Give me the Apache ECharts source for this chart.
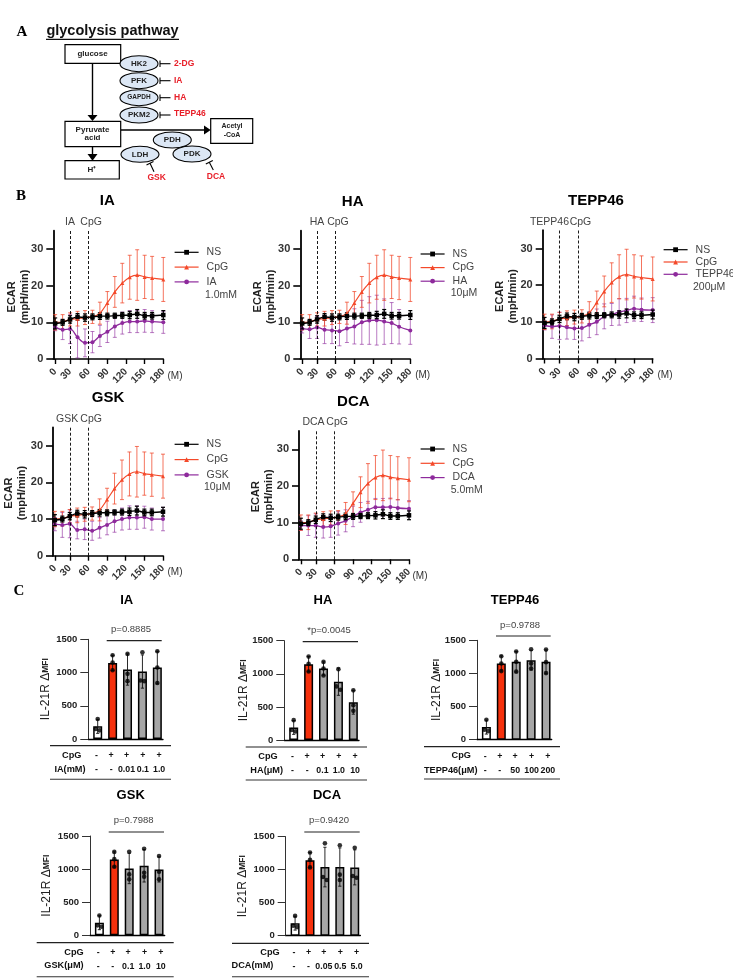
<!DOCTYPE html>
<html><head><meta charset="utf-8">
<style>html,body{margin:0;padding:0;background:#fff}#c{width:733px;height:980px}</style>
<script src="https://cdn.jsdelivr.net/npm/echarts@6/dist/echarts.min.js"></script>
</head><body><div id="c"></div>
<script>
// ---------- DATA ----------
const times = [6,18,30,42,54,66,78,90,102,114,126,138,150,162,180];
const timeTicks = [6,30,60,90,120,150,180];
const timeTickLabels = ['0','30','60','90','120','150','180'];
const ecarTicks = [0,10,20,30];
const NS_mean  = [9.7,10.0,10.8,11.5,11.3,11.5,11.7,11.7,11.8,11.9,12.0,12.3,11.8,11.8,12.0];
const NS_sd    = [1.5,0.8,1.0,0.9,1.0,0.8,0.9,0.8,0.7,0.8,1.0,1.2,0.9,0.9,1.2];
const CpG_mean = [10.0,10.1,10.8,11.0,11.3,11.5,12.5,15.3,18.3,20.7,22.3,22.9,22.4,22.1,21.7];
const CpG_sd   = [2.1,2.0,1.8,2.0,1.9,1.8,3.0,3.1,4.2,5.4,6.0,6.9,5.9,5.9,6.0];
const IA_mean  = [8.7,8.0,8.2,5.9,4.4,4.6,6.3,7.4,8.9,9.8,10.2,10.2,10.4,10.2,10.0];
const IA_sd    = [1.0,2.7,4.0,5.6,3.8,2.9,2.9,2.9,3.0,3.0,3.0,3.0,3.1,3.0,3.0];
const HA_mean  = [8.3,8.1,8.6,8.0,7.8,7.6,8.3,8.9,10.0,10.5,10.6,10.2,9.8,8.8,7.8];
const HA_sd    = [1.2,2.5,3.0,3.8,3.6,4.0,3.8,4.8,6.0,6.5,6.8,6.2,5.6,4.7,3.8];
const TEPP_mean= [9.0,8.7,8.9,8.5,8.2,8.3,9.2,10.0,11.5,12.0,12.7,13.1,13.6,13.3,13.2];
const TEPP_sd  = [1.2,3.2,3.7,3.2,3.0,3.5,3.5,3.5,3.4,3.0,3.6,3.3,3.4,3.2,3.4];
const GSK_mean = [8.6,8.4,8.7,7.0,7.2,6.8,7.6,8.4,9.4,10.0,10.4,10.4,10.5,10.0,10.0];
const GSK_sd   = [1.8,3.4,3.8,2.4,2.8,2.6,2.8,2.7,3.0,3.0,3.2,3.2,3.0,3.0,3.2];
const DCA_mean = [9.2,9.2,9.2,8.8,9.0,9.8,10.5,11.7,12.8,13.5,14.2,14.2,14.3,14.0,13.8];
const DCA_sd   = [1.3,2.7,3.2,3.0,3.0,3.2,3.0,2.8,2.7,2.3,2.4,2.4,2.4,2.3,2.2];

const barIA_mean = [190,1145,1045,1015,1075];
const barIA_sd   = [105,115,235,250,245];
const barIA_dots = [[300,150,130],[1260,1150,1035],[1280,980,870],[1305,880,870],[1320,1075,843]];
const barIA_doses= ['-','-','0.01','0.1','1.0'];
const barHA_mean = [190,1145,1080,880,570];
const barHA_sd   = [105,115,100,205,180];
const barHA_dots = [[300,150,130],[1260,1150,1035],[1180,1080,975],[1070,810,760],[750,525,440]];
const barHA_doses= ['-','-','0.1','1.0','10'];
const barTEPP_mean = [190,1150,1175,1200,1175];
const barTEPP_sd   = [105,115,155,150,180];
const barTEPP_dots = [[300,150,130],[1260,1150,1035],[1330,1175,1027],[1365,1150,1075],[1360,1170,1005]];
const barTEPP_doses= ['-','-','50','100','200'];
const barGSK_mean = [190,1145,1010,1050,995];
const barGSK_sd   = [105,115,230,245,190];
const barGSK_dots = [[300,150,130],[1260,1150,1035],[1263,920,845],[1308,945,885],[1198,960,845]];
const barGSK_doses= ['-','-','0.1','1.0','10'];
const barDCA_mean = [190,1145,1040,1040,1035];
const barDCA_sd   = [105,115,300,290,265];
const barDCA_dots = [[300,150,130],[1260,1150,1035],[1399,890,843],[1370,925,843],[1333,905,879]];
const barDCA_doses= ['-','-','0.05','0.5','5.0'];
const cpgSigns = ['-','+','+','+','+'];

// ---------- STYLE / LAYOUT ----------
const FONT = '"Liberation Sans", Arial, sans-serif';
const BLACK='#000000', RED='#f4492a', PURPLE='#8e2a9c';
const BAR_FILL=['#ffffff','#f5300c','#a6a6a6','#a6a6a6','#a6a6a6'];
const LABEL_POS=[-0.08,0.9,1.93,3.03,4.12];

const linePanels = [
 {title:'IA',   t:[107.3,201],  left:53.3, y0:359,  mean:IA_mean,  sd:IA_sd,  name:'IA',    dose:'1.0mM', lab:[0,2.4],   leg:[174,252.3,14.8,205,295], m:[175,376.7], gap:21.8, pad:4},
 {title:'HA',   t:[352.7,202.3],left:300.3,y0:359,  mean:HA_mean,  sd:HA_sd,  name:'HA',    dose:'10μM',  lab:[0,2.2],   leg:[420,254,13.6,450.7,293], m:[422.7,375.7], gap:23, pad:4},
 {title:'TEPP46',t:[596,201],   left:542.7,y0:358.5,mean:TEPP_mean,sd:TEPP_sd,name:'TEPP46',dose:'200μM', lab:[-10,2.3], leg:[663,249.7,12.3,693,286.7], m:[665,375.7], gap:23.7, pad:4},
 {title:'GSK',  t:[108,397.7],  left:53,   y0:555.7,mean:GSK_mean, sd:GSK_sd, name:'GSK',   dose:'10μM',  lab:[-2.7,2.7],leg:[174,444.3,15.3,204,487], m:[175,572.3], gap:24.3, pad:3},
 {title:'DCA',  t:[353.3,401.7],left:299,  y0:559.3,mean:DCA_mean, sd:DCA_sd, name:'DCA',   dose:'5.0mM', lab:[-2.3,2.7],leg:[420,449,14.3,450.7,490.3], m:[420,576], gap:23.5, pad:3}
];
const barPanels = [
 {title:'IA',t:[126.7,600],left:88.3,y0:739,y1:639.3,mean:barIA_mean,sd:barIA_sd,dots:barIA_dots,doses:barIA_doses,gap:37,
  p:'p=0.8885',pl:[106.7,161.7,640.7],pt:[131,629],rule:[50,171,745.7,779.3],head:'IA(mM)',h1:[71.7,755],h2:[70,769]},
 {title:'HA',t:[323,600.7],left:284.3,y0:740,y1:640.7,mean:barHA_mean,sd:barHA_sd,dots:barHA_dots,doses:barHA_doses,gap:35,
  p:'*p=0.0045',pl:[302.7,358,641.7],pt:[329,630.7],rule:[245.7,367,747,780],head:'HA(μM)',h1:[268,756],h2:[266.7,770]},
 {title:'TEPP46',t:[515,600],left:477,y0:739.7,y1:640.3,mean:barTEPP_mean,sd:barTEPP_sd,dots:barTEPP_dots,doses:barTEPP_doses,gap:34.5,
  p:'p=0.9788',pl:[496,550.7,636],pt:[520,625],rule:[424,560,746.7,779],head:'TEPP46(μM)',h1:[461.3,755.7],h2:[450.7,770]},
 {title:'GSK',t:[130.7,795.7],left:90,y0:935.3,y1:836,mean:barGSK_mean,sd:barGSK_sd,dots:barGSK_dots,doses:barGSK_doses,gap:37,
  p:'p=0.7988',pl:[108.7,164,832],pt:[133.7,820.7],rule:[36.7,173.7,942.7,976.7],head:'GSK(μM)',h1:[74,952.3],h2:[64,965.3]},
 {title:'DCA',t:[327,795.7],left:285.7,y0:935.7,y1:836.7,mean:barDCA_mean,sd:barDCA_sd,dots:barDCA_dots,doses:barDCA_doses,gap:36.7,
  p:'p=0.9420',pl:[304.3,359.7,832],pt:[329,820.3],rule:[232,369,943.3,976.7],head:'DCA(mM)',h1:[270,952],h2:[252.5,965.7]}
];

// ---------- HELPERS ----------
const graphic=[];
function txt(x,y,text,size,weight,fill,align,family){
  graphic.push({type:'text',x,y,silent:true,style:{text,fontSize:size,fontWeight:weight||'normal',fontFamily:family||FONT,
    fill:fill||'#000',align:align||'center',verticalAlign:'middle'}});
}
function ln(x1,y1,x2,y2,w,col){
  graphic.push({type:'line',silent:true,shape:{x1,y1,x2,y2},style:{stroke:col||'#000',lineWidth:w||1}});
}
function head(pts){graphic.push({type:'polygon',silent:true,shape:{points:pts},style:{fill:'#000'}});}
function box(x1,y1,x2,y2){graphic.push({type:'rect',silent:true,shape:{x:x1,y:y1,width:x2-x1,height:y2-y1},style:{fill:'#fff',stroke:'#000',lineWidth:1.2}});}
function oval(cx,cy,label,size){
  graphic.push({type:'ellipse',silent:true,shape:{cx,cy,rx:19,ry:8},style:{fill:'#dce7f5',stroke:'#000',lineWidth:1.1}});
  txt(cx,cy,label,size||8,'bold','#222');
}
const errorBars = (color,w,cap)=>function(params,api){
  const x=api.value(0),y=api.value(1),e=api.value(2);
  const a=api.coord([x,y+e]),b=api.coord([x,y-e]);
  const st={stroke:color,lineWidth:w,fill:null};
  const seg=(x1,y1,x2,y2)=>({type:'line',shape:{x1,y1,x2,y2},style:st});
  return {type:'group',children:[seg(a[0],a[1],b[0],b[1]),seg(a[0]-cap,a[1],a[0]+cap,a[1]),seg(b[0]-cap,b[1],b[0]+cap,b[1])]};
};
const zipErr=(m,s)=>times.map((t,i)=>[t,m[i],s[i]]);

// ---------- OPTION ----------
const grid=[],xAxis=[],yAxis=[],series=[],legend=[];

linePanels.forEach((p,i)=>{
  grid.push({left:p.left,top:p.y0-128.3,width:110,height:128.3,outerBoundsMode:'none',containLabel:false});
  xAxis.push({type:'value',gridIndex:i,min:3,max:180,splitLine:{show:false},
    axisLine:{onZero:false,lineStyle:{color:'#000',width:1.6}},
    axisTick:{customValues:timeTicks,length:5,lineStyle:{color:'#000',width:1.4}},
    axisLabel:{customValues:timeTicks,rotate:45,margin:11,showMinLabel:true,showMaxLabel:true,fontSize:10,fontWeight:'bold',fontFamily:FONT,color:'#333',
      formatter:v=>timeTickLabels[timeTicks.indexOf(v)]}});
  yAxis.push({type:'value',gridIndex:i,min:0,max:35,splitLine:{show:false},
    name:'ECAR\n(mpH/min)',nameLocation:'middle',nameGap:p.gap,nameMoveOverlap:false,
    nameTextStyle:{fontSize:11,fontWeight:'bold',fontFamily:FONT,color:'#222',lineHeight:13,padding:[0,p.pad,0,0]},
    axisLine:{show:true,onZero:false,lineStyle:{color:'#000',width:1.8}},
    axisTick:{show:true,customValues:ecarTicks,length:7,lineStyle:{color:'#000',width:1.6}},
    axisLabel:{customValues:ecarTicks,margin:10,fontSize:11,fontWeight:'bold',fontFamily:FONT,color:'#333'}});
  const defs=[
    {name:p.name,m:p.mean,s:p.sd,c:PURPLE,ec:'rgba(142,42,156,0.62)',sym:'circle',size:4,z:3,w:1.3},
    {name:'CpG',m:CpG_mean,s:CpG_sd,c:RED,ec:'rgba(240,70,40,0.75)',sym:'triangle',size:4,z:4,w:1.2},
    {name:'NS',m:NS_mean,s:NS_sd,c:BLACK,ec:'#000',sym:'rect',size:4.5,z:5,w:1.4}
  ];
  defs.forEach(d=>{
    const s={type:'line',name:d.name,xAxisIndex:i,yAxisIndex:i,data:times.map((t,k)=>[t,d.m[k]]),
      smooth:0.35,symbol:d.sym,symbolSize:d.size,showSymbol:true,z:d.z+1,
      lineStyle:{color:d.c,width:d.w},itemStyle:{color:d.c}};
    if(d.name==='NS'){
      const dl=(val,text,dx)=>({xAxis:val,label:{formatter:text,offset:[dx,0]}});
      s.markLine={silent:true,symbol:'none',animation:false,
        lineStyle:{color:'#000',type:[3,2],width:0.9},
        label:{show:true,position:'end',distance:3,fontSize:10.5,fontFamily:FONT,color:'#444'},
        data:[dl(30,p.name,p.lab[0]),dl(60,'CpG',p.lab[1])]};
    }
    series.push(s);
  });
  defs.forEach(d=>{
    series.push({type:'custom',name:d.name,xAxisIndex:i,yAxisIndex:i,data:zipErr(d.m,d.s),z:d.z,
      encode:{x:0,y:1},renderItem:errorBars(d.ec,d.name==='NS'?1.2:1,2),silent:true});
  });
  legend.push({orient:'vertical',left:p.leg[0],top:p.leg[1]-5.5,itemWidth:24,itemHeight:6,itemGap:p.leg[2]-11,padding:0,
    selectedMode:false,data:['NS','CpG',p.name],lineStyle:{width:1.2},
    textStyle:{fontSize:10.5,fontFamily:FONT,color:'#444',padding:[0,0,0,3]}});
  txt(p.t[0],p.t[1],p.title,15,'bold','#000');
  txt(p.leg[3],p.leg[4],p.dose,10.5,'normal','#444','left');
  txt(p.m[0],p.m[1],'(M)',10,'normal','#333');
});

function swarm(vals,idx){
  const out=vals.map(v=>[idx,v]);
  for(let a=0;a<out.length;a++)for(let b=a+1;b<out.length;b++){
    if(Math.abs(out[a][1]-out[b][1])<60){out[a][0]=idx-0.13;out[b][0]=idx+0.13;}
  }
  return out;
}
const N=linePanels.length;
barPanels.forEach((p,j)=>{
  const i=N+j;
  const labels=cpgSigns.map((s,k)=>s+'\n'+p.doses[k]);
  grid.push({left:p.left,top:p.y1,width:74.7,height:p.y0-p.y1,outerBoundsMode:'none',containLabel:false});
  xAxis.push({type:'value',gridIndex:i,min:-0.63,max:4.38,splitLine:{show:false},
    axisLine:{onZero:false,lineStyle:{color:'#000',width:1.3}},axisTick:{show:false},
    axisLabel:{customValues:LABEL_POS,margin:10,showMinLabel:true,showMaxLabel:true,hideOverlap:false,fontSize:8.8,fontWeight:'bold',fontFamily:FONT,color:'#111',lineHeight:14,
      formatter:v=>labels[LABEL_POS.indexOf(v)]}});
  yAxis.push({type:'value',gridIndex:i,min:0,max:1500,interval:500,splitLine:{show:false},
    name:'{a|IL-21R Δ}{b|MFI}',nameLocation:'middle',nameGap:p.gap,nameMoveOverlap:false,
    nameTextStyle:{fontFamily:FONT,color:'#222',rich:{a:{fontSize:12,fontFamily:FONT,fontWeight:'normal',color:'#222'},b:{fontSize:8.5,fontWeight:'bold',fontFamily:FONT,color:'#222'}}},
    axisLine:{show:true,onZero:false,lineStyle:{color:'#333',width:1}},
    axisTick:{show:true,length:8,lineStyle:{color:'#333',width:1}},
    axisLabel:{margin:11,fontSize:9.5,fontWeight:'bold',fontFamily:FONT,color:'#222',formatter:v=>String(v)}});
  series.push({type:'bar',xAxisIndex:i,yAxisIndex:i,barWidth:9,z:2,
    data:p.mean.map((v,k)=>({value:[k,v],itemStyle:{color:BAR_FILL[k],borderColor:'#000',borderWidth:1.5}}))});
  series.push({type:'custom',xAxisIndex:i,yAxisIndex:i,z:3,silent:true,encode:{x:0,y:1},
    data:p.mean.map((v,k)=>[k,v,p.sd[k]]),renderItem:errorBars('#111',0.9,1.6)});
  series.push({type:'scatter',xAxisIndex:i,yAxisIndex:i,z:4,symbol:'circle',symbolSize:4.6,silent:true,
    itemStyle:{color:'#000'},data:p.dots.flatMap((d,k)=>swarm(d,k))});
  txt(p.t[0],p.t[1],p.title,13,'bold','#000');
  txt(p.pt[0],p.pt[1],p.p,9.5,'normal','#444');
  ln(p.pl[0],p.pl[2],p.pl[1],p.pl[2],1.2,'#222');
  ln(p.rule[0],p.rule[2],p.rule[1],p.rule[2],1.2,'#222');
  ln(p.rule[0],p.rule[3],p.rule[1],p.rule[3],1.1,'#333');
  txt(p.h1[0],p.h1[1],'CpG',9.2,'bold','#111');
  txt(p.h2[0],p.h2[1],p.head,9.2,'bold','#111');
});

// ---------- PANEL LETTERS + PATHWAY ----------
const SERIF='"Liberation Serif", serif';
txt(22,32,'A',15,'bold','#000','center',SERIF);
txt(21,196,'B',15,'bold','#000','center',SERIF);
txt(19,591,'C',15,'bold','#000','center',SERIF);
txt(112.5,31,'glycolysis pathway',14.5,'bold','#111');
ln(46,39.3,179,39.3,1.2,'#111');
// arrows
ln(92.5,63,92.5,116,1.4); head([[87.5,115],[97.5,115],[92.5,121]]);
ln(120.7,130,205,130,1.4); head([[204,125.5],[204,134.5],[210.7,130]]);
ln(92.5,147,92.5,155,1.4); head([[87.5,154],[97.5,154],[92.5,160.7]]);
box(65,44.7,120.7,63.3); txt(92.5,54,'glucose',8,'bold','#222');
box(65,121.3,120.7,146.7); txt(92.5,129.5,'Pyruvate',8,'bold','#222'); txt(92.5,138,'acid',8,'bold','#222');
box(65,160.7,119.3,179); txt(92,169.5,'H⁺',8,'bold','#222');
box(210.7,118.7,252.7,143.3); txt(232,126.5,'Acetyl',7,'bold','#222'); txt(232,135.5,'-CoA',7,'bold','#222');
[['HK2',63.7,'2-DG',63.5],['PFK',80.7,'IA',80.5],['GAPDH',97.7,'HA',97.5],['PKM2',115,'TEPP46',113.5]].forEach(r=>{
  oval(139,r[1],r[0],r[0]==='GAPDH'?6.5:8);
  ln(160,r[1],170.5,r[1],1.1); ln(160,r[1]-3.2,160,r[1]+3.2,1.1);
  txt(174,r[3],r[2],8.5,'bold','#e8202a','left');
});
oval(172.3,140,'PDH'); oval(192,154,'PDK'); oval(140,154.3,'LDH');
ln(154,171.7,150,163.3,1.1); ln(146.5,165,153.5,161.5,1.1);
ln(213.3,170,209.3,162.3,1.1); ln(205.8,164,212.8,160.5,1.1);
txt(156.7,178,'GSK',8.5,'bold','#e8202a');
txt(216,177,'DCA',8.5,'bold','#e8202a');

const chart=echarts.init(document.getElementById('c'),null,{renderer:'canvas'});
chart.setOption({animation:false,backgroundColor:'#fff',textStyle:{fontFamily:FONT},
  grid,xAxis,yAxis,series,legend,graphic:{elements:graphic}});
</script></body></html>
